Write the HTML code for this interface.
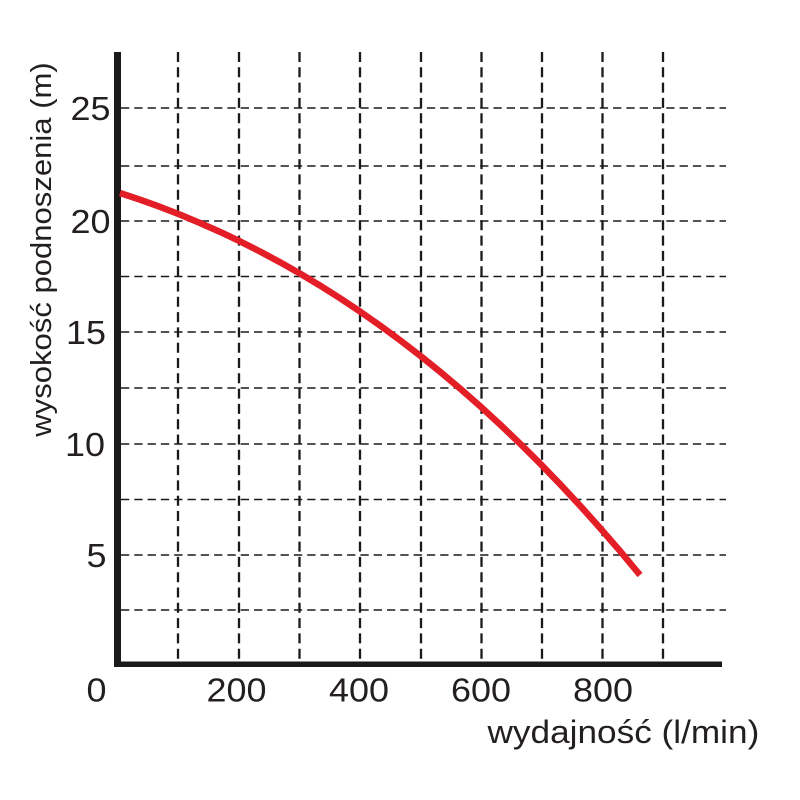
<!DOCTYPE html>
<html>
<head>
<meta charset="utf-8">
<style>
  html, body { margin: 0; padding: 0; background: #ffffff; }
  svg { display: block; }
  text { font-family: "Liberation Sans", Arial, sans-serif; fill: #231f20; }
</style>
</head>
<body>
<svg width="800" height="800" viewBox="0 0 800 800" xmlns="http://www.w3.org/2000/svg">
  <rect x="0" y="0" width="800" height="800" fill="#ffffff"/>

  <!-- horizontal dashed grid -->
  <g stroke="#1a1a1a" stroke-width="1.6" stroke-dasharray="8.3 5" fill="none">
    <line x1="121" y1="108" x2="726" y2="108"/>
    <line x1="121" y1="166" x2="726" y2="166"/>
    <line x1="121" y1="221" x2="726" y2="221"/>
    <line x1="121" y1="276.5" x2="726" y2="276.5"/>
    <line x1="121" y1="332" x2="726" y2="332"/>
    <line x1="121" y1="388" x2="726" y2="388"/>
    <line x1="121" y1="444" x2="726" y2="444"/>
    <line x1="121" y1="499.5" x2="726" y2="499.5"/>
    <line x1="121" y1="555" x2="726" y2="555"/>
    <line x1="121" y1="610" x2="726" y2="610"/>
  </g>

  <!-- vertical dashed grid -->
  <g stroke="#1a1a1a" stroke-width="2.3" stroke-dasharray="10 5.3" fill="none">
    <line x1="178" y1="52" x2="178" y2="662"/>
    <line x1="239" y1="52" x2="239" y2="662"/>
    <line x1="299.5" y1="52" x2="299.5" y2="662"/>
    <line x1="360" y1="52" x2="360" y2="662"/>
    <line x1="421" y1="52" x2="421" y2="662"/>
    <line x1="481.5" y1="52" x2="481.5" y2="662"/>
    <line x1="542" y1="52" x2="542" y2="662"/>
    <line x1="602.5" y1="52" x2="602.5" y2="662"/>
    <line x1="663" y1="52" x2="663" y2="662"/>
  </g>

  <!-- axes -->
  <rect x="114" y="52" width="7" height="615" fill="#1a1a1a"/>
  <rect x="114" y="661.5" width="608" height="5.5" fill="#1a1a1a"/>

  <!-- curve -->
  <polyline points="120,193 140,199.67 160,206.87 180,214.64 200,222.97 220,231.87 240,241.37 260,251.48 280,262.2 300,273.55 320,285.54 340,298.19 360,311.51 380,325.5 400,340.19 420,355.58 440,371.69 460,388.52 480,406.11 500,424.45 520,443.55 540,463.44 560,484.12 580,505.6 600,527.9 620,551.04 640,575.01"
        fill="none" stroke="#e31e26" stroke-width="6.5" stroke-linecap="butt" stroke-linejoin="round"/>

  <!-- y tick labels -->
  <g font-size="33" text-anchor="end">
    <text transform="translate(110.5,120) scale(1.09,1)">25</text>
    <text transform="translate(110.5,233) scale(1.09,1)">20</text>
    <text transform="translate(106,344) scale(1.09,1)">15</text>
    <text transform="translate(105,456) scale(1.09,1)">10</text>
    <text transform="translate(106.5,567) scale(1.09,1)">5</text>
  </g>

  <!-- x tick labels -->
  <g font-size="33" text-anchor="middle">
    <text transform="translate(96.5,701.5) scale(1.09,1)">0</text>
    <text transform="translate(236.5,701.5) scale(1.09,1)">200</text>
    <text transform="translate(359,701.5) scale(1.09,1)">400</text>
    <text transform="translate(481,701.5) scale(1.09,1)">600</text>
    <text transform="translate(603,701.5) scale(1.09,1)">800</text>
  </g>

  <!-- axis titles -->
  <text font-size="32" transform="translate(487.5,743) scale(1.1,1)">wydajność (l/min)</text>
  <text font-size="28.5" text-anchor="middle" transform="translate(51,249.5) rotate(-90) scale(1.09,1)">wysokość podnoszenia (m)</text>
</svg>
</body>
</html>
